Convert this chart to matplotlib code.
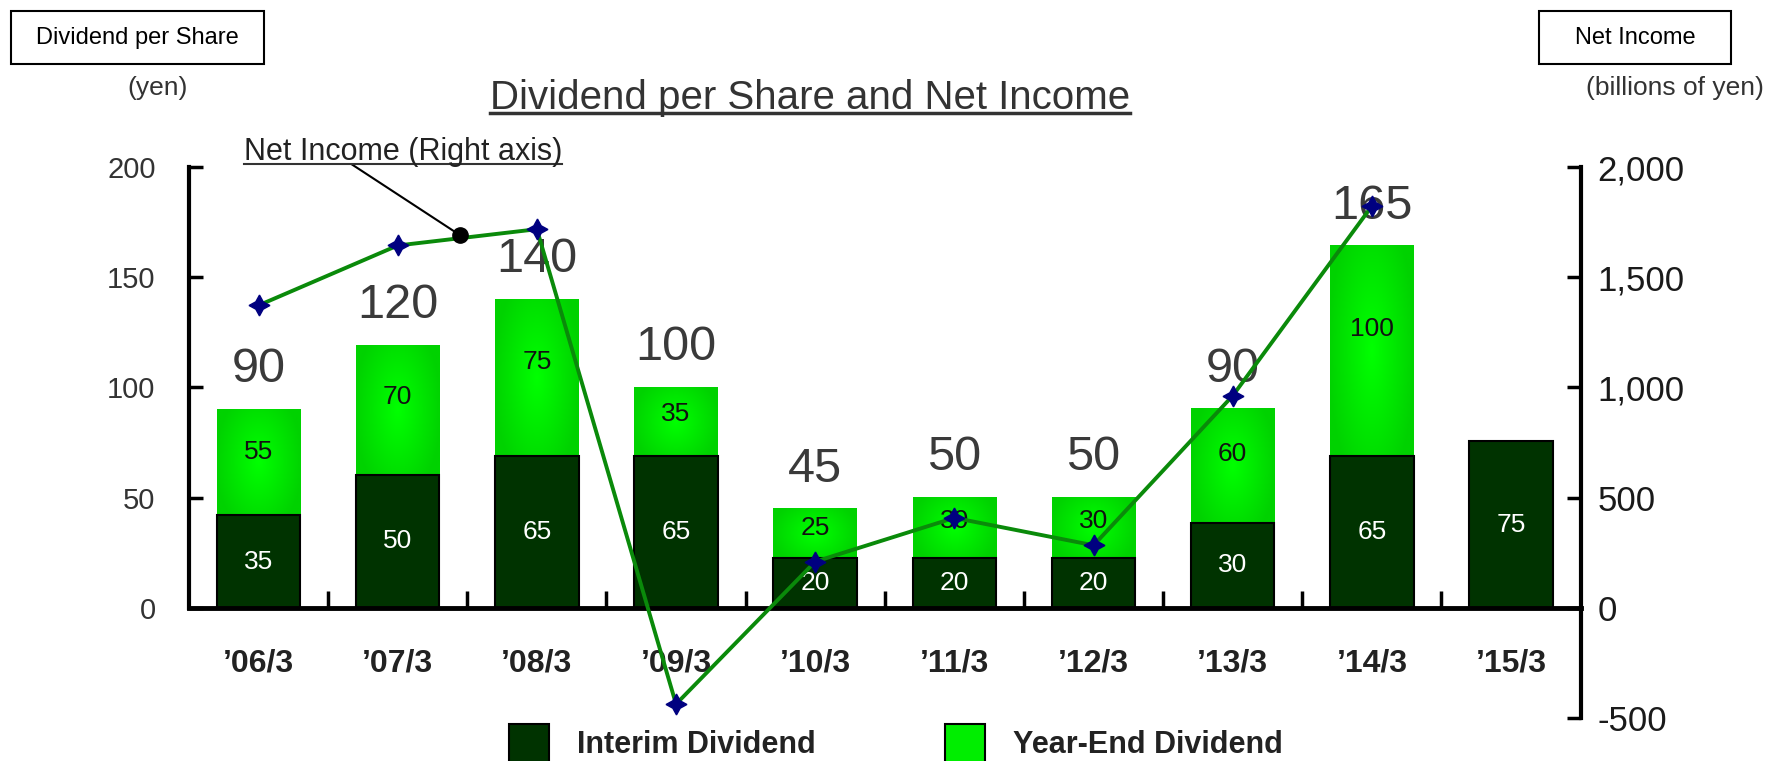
import numpy as np
import matplotlib.pyplot as plt
from matplotlib.patches import Rectangle
from matplotlib.lines import Line2D
from matplotlib.colors import LinearSegmentedColormap

plt.rcParams['font.family'] = ['Liberation Sans', 'DejaVu Sans']

years = ["’06/3", "’07/3", "’08/3", "’09/3", "’10/3", "’11/3", "’12/3", "’13/3", "’14/3", "’15/3"]
# bar heights as drawn in the picture (yen)
interim_bar = [41.9, 60.3, 69.1, 69.1, 22.6, 22.6, 22.6, 38.6, 69.1, 75.6]
yearend_bar = [48.3, 59.0, 71.0, 31.1, 22.6, 27.8, 27.8, 51.9, 95.4, 0.0]
# printed labels
interim_text = ['35', '50', '65', '65', '20', '20', '20', '30', '65', '75']
yearend_text = ['55', '70', '75', '35', '25', '30', '30', '60', '100', '']
total_text = ['90', '120', '140', '100', '45', '50', '50', '90', '165', '']
# net income, billions of yen
net_income = [1372.2, 1644.0, 1717.9, -437.0, 209.5, 408.2, 283.6, 962.2, 1823.1]

dark = '#003300'
bright = '#00EE00'

fig = plt.figure(figsize=(17.74, 7.61), dpi=100)
ax = fig.add_axes([0.1065, 0.0565, 0.7845, 0.724])
x = np.arange(len(years))
w = 0.6

ax.bar(x, interim_bar, width=w, color=dark, edgecolor='black', lw=1.5, zorder=3)
ye = ax.bar(x, yearend_bar, width=w, bottom=interim_bar, color=bright, edgecolor='none', zorder=2)

# soft radial shading on the year-end bars
cmap = LinearSegmentedColormap.from_list('g', ['#00D200', '#00FF00'])
gx, gy = np.meshgrid(np.linspace(-1, 1, 60), np.linspace(-1, 1, 60))
grad = 1 - np.clip(np.sqrt(gx**2 * 0.9 + gy**2 * 0.5), 0, 1)
for p in ye:
    if p.get_height() <= 0:
        continue
    x0, y0 = p.get_x(), p.get_y()
    im = ax.imshow(grad, extent=[x0, x0 + p.get_width(), y0, y0 + p.get_height()],
                   cmap=cmap, aspect='auto', zorder=2.5, origin='lower')
    im.set_clip_path(p)

for i in range(len(years)):
    ax.text(x[i], interim_bar[i] / 2, interim_text[i], ha='center', va='center',
            color='white', fontsize=19, zorder=5)
    if yearend_text[i]:
        ax.text(x[i], interim_bar[i] + yearend_bar[i] * 0.6, yearend_text[i], ha='center',
                va='center', color='#111111', fontsize=19, zorder=5)
    if total_text[i]:
        ax.annotate(total_text[i], xy=(x[i], interim_bar[i] + yearend_bar[i]), xytext=(0, 12),
                    textcoords='offset points', ha='center', va='bottom',
                    color='#3a3a3a', fontsize=35, zorder=5)

ax.set_xlim(-0.5, len(years) - 0.5)
ax.set_ylim(-50, 200)
ax.set_yticks([0, 50, 100, 150, 200])
ax.set_xticks(x, labels=years)
ax.set_xticks(x[:-1] + 0.5, minor=True)
ax.tick_params(axis='x', which='major', length=0, pad=29, labelsize=23, labelcolor='#222222')
ax.tick_params(axis='x', which='minor', direction='in', length=12, width=2.5)
ax.tick_params(axis='y', direction='in', length=10, width=2.5, pad=24, labelsize=21,
               labelcolor='#333333')
for s in ['top', 'right']:
    ax.spines[s].set_visible(False)
ax.spines['left'].set_bounds(0, 200)
ax.spines['left'].set_linewidth(3)
ax.spines['bottom'].set_position(('data', 0))
ax.spines['bottom'].set_linewidth(3.5)
ax.spines['bottom'].set_zorder(6)

ax2 = ax.twinx()
ax2.set_ylim(-500, 2000)
ax2.set_yticks([-500, 0, 500, 1000, 1500, 2000])
ax2.set_yticklabels(['-500', '0', '500', '1,000', '1,500', '2,000'])
for s in ['top', 'left', 'bottom']:
    ax2.spines[s].set_visible(False)
ax2.spines['right'].set_linewidth(3)
ax2.tick_params(axis='y', direction='in', length=10, width=2.5, pad=12, labelsize=25,
                labelcolor='#1a1a1a')
ax2.plot(x[:len(net_income)], net_income, color='#0A8A0A', lw=2.8, zorder=4,
         marker=(4, 1, 0), ms=15, mfc='#000080', mec='#000080')

# callout for the line
ax2.plot([1.45], [1690], 'o', color='black', ms=11, zorder=6)
ax2.annotate('', xy=(1.45, 1690), xytext=(0.198, 0.7845), textcoords='figure fraction',
             arrowprops=dict(arrowstyle='-', color='black', lw=1.5, shrinkA=0, shrinkB=0))

callout = fig.text(0.1375, 0.79, 'Net Income (Right axis)', fontsize=22, va='baseline',
                   color='#222222')
title = fig.text(0.4566, 0.857, 'Dividend per Share and Net Income', fontsize=29,
                 ha='center', va='baseline', color='#333333')

fig.text(0.089, 0.884, '(yen)', fontsize=19, ha='center', va='center', color='#333333')
fig.text(0.944, 0.884, '(billions of yen)', fontsize=19, ha='center', va='center',
         color='#333333')

fig.patches.append(Rectangle((0.0062, 0.9159), 0.1426, 0.0696, transform=fig.transFigure,
                             fc='white', ec='black', lw=1.5))
fig.text(0.0775, 0.9507, 'Dividend per Share', fontsize=17, ha='center', va='center')
fig.patches.append(Rectangle((0.8675, 0.9159), 0.1082, 0.0696, transform=fig.transFigure,
                             fc='white', ec='black', lw=1.5))
fig.text(0.9217, 0.9507, 'Net Income', fontsize=17, ha='center', va='center')

# legend along the bottom edge
fig.patches.append(Rectangle((0.2869, -0.02), 0.0225, 0.0686, transform=fig.transFigure,
                             fc=dark, ec='black', lw=1.5))
fig.text(0.3253, 0.021, 'Interim Dividend', fontsize=22, fontweight='bold', va='center',
         color='#222222')
fig.patches.append(Rectangle((0.5327, -0.02), 0.0225, 0.0686, transform=fig.transFigure,
                             fc=bright, ec='black', lw=1.5))
fig.text(0.571, 0.021, 'Year-End Dividend', fontsize=22, fontweight='bold', va='center',
         color='#222222')

for lab in ax.get_xticklabels():
    lab.set_fontweight('bold')

# underline the callout and the title
fig.canvas.draw()
r = fig.canvas.get_renderer()
for t, lw in [(callout, 1.5), (title, 2.5)]:
    bb = t.get_window_extent(r).transformed(fig.transFigure.inverted())
    y_line = t.get_position()[1] - 0.006
    fig.lines.append(Line2D([bb.x0, bb.x1], [y_line, y_line], transform=fig.transFigure,
                            color='#333333', lw=lw))

fig.savefig('out.png', dpi=100)
